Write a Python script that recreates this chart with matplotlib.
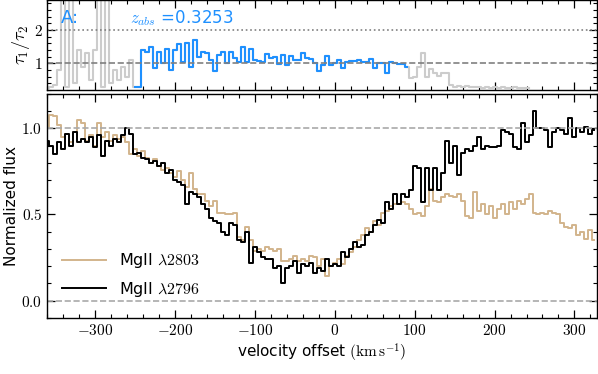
import numpy as np
import matplotlib
matplotlib.use("Agg")
import matplotlib.pyplot as plt
from matplotlib.ticker import MultipleLocator, FuncFormatter

plt.rcParams['mathtext.fontset'] = 'cm'
plt.rcParams['font.family'] = ['DejaVu Sans']

# velocity grid (km/s), 5 km/s bins
velocity = np.arange(-360, 330, 5)

# MgII 2796 normalized flux
flux_2796 = [
    0.93, 0.90, 0.85, 0.92, 0.88, 0.97, 0.90, 0.98, 0.92, 0.94,
    0.92, 0.95, 0.89, 0.96, 0.84, 0.93, 0.90, 0.94, 0.92, 0.96,
    1.00, 0.97, 0.85, 0.86, 0.83, 0.82, 0.80, 0.81, 0.78, 0.80,
    0.74, 0.76, 0.70, 0.69, 0.67, 0.56, 0.63, 0.62, 0.60, 0.56,
    0.53, 0.48, 0.46, 0.45, 0.40, 0.38, 0.45, 0.44, 0.35, 0.34,
    0.40, 0.22, 0.31, 0.28, 0.25, 0.24, 0.24, 0.19, 0.20, 0.10,
    0.19, 0.20, 0.23, 0.16, 0.21, 0.20, 0.22, 0.16, 0.19, 0.17,
    0.24, 0.20, 0.21, 0.20, 0.28, 0.25, 0.30, 0.34, 0.31, 0.32,
    0.38, 0.40, 0.44, 0.47, 0.45, 0.57, 0.53, 0.62, 0.56, 0.62,
    0.60, 0.64, 0.78, 0.77, 0.57, 0.77, 0.64, 0.77, 0.64, 0.74,
    0.93, 0.80, 0.90, 0.73, 0.86, 0.88, 0.87, 0.90, 0.95, 0.88,
    0.90, 0.89, 0.89, 0.90, 0.99, 0.98, 0.97, 0.89, 0.88, 1.03,
    0.92, 0.96, 1.10, 1.00, 1.00, 0.99, 0.89, 0.98, 1.00, 0.99,
    0.97, 1.06, 0.95, 1.00, 0.98, 1.01, 0.97, 0.99,
]

# MgII 2803 normalized flux
flux_2803 = [
    1.00, 1.08, 1.07, 1.02, 0.95, 0.97, 0.92, 0.98, 1.05, 1.03,
    0.93, 0.96, 0.90, 1.03, 0.95, 0.98, 0.93, 0.96, 0.94, 0.95,
    0.92, 0.85, 0.88, 0.84, 0.87, 0.83, 0.80, 0.82, 0.78, 0.76,
    0.77, 0.74, 0.72, 0.75, 0.70, 0.66, 0.74, 0.65, 0.62, 0.62,
    0.58, 0.55, 0.58, 0.51, 0.51, 0.50, 0.50, 0.51, 0.37, 0.35,
    0.43, 0.35, 0.29, 0.30, 0.29, 0.31, 0.30, 0.29, 0.30, 0.23,
    0.23, 0.24, 0.26, 0.23, 0.24, 0.23, 0.26, 0.25, 0.20, 0.24,
    0.14, 0.20, 0.22, 0.24, 0.21, 0.26, 0.28, 0.31, 0.35, 0.38,
    0.42, 0.40, 0.46, 0.44, 0.51, 0.52, 0.55, 0.56, 0.56, 0.57,
    0.56, 0.53, 0.50, 0.51, 0.49, 0.55, 0.65, 0.58, 0.57, 0.60,
    0.62, 0.61, 0.60, 0.62, 0.58, 0.49, 0.48, 0.63, 0.52, 0.56,
    0.50, 0.55, 0.48, 0.53, 0.56, 0.50, 0.57, 0.53, 0.58, 0.56,
    0.59, 0.62, 0.51, 0.50, 0.51, 0.50, 0.52, 0.51, 0.50, 0.45,
    0.43, 0.42, 0.44, 0.38, 0.40, 0.36, 0.41, 0.35,
]

# apparent optical depth ratio tau1/tau2 (nan = not shown)
nan = np.nan
tau_ratio = [
    0.25, 0.30, 0.35, 0.80, 3.00, 0.30, 3.00, 0.40, 1.40, 0.90,
    1.30, 0.50, 1.40, 3.00, 0.30, 3.00, 0.40, 0.80, 0.50, 0.90,
    0.60, 1.10, 0.29, 0.29, 1.39, 1.35, 1.48, 0.85, 1.35, 1.00,
    1.44, 0.80, 1.39, 1.58, 1.05, 1.60, 0.90, 1.70, 1.20, 1.35,
    1.30, 1.10, 0.76, 1.25, 1.35, 1.00, 1.35, 1.15, 1.04, 1.48,
    1.05, 1.44, 1.10, 1.08, 1.05, 1.29, 1.15, 1.20, 0.98, 1.25,
    0.95, 1.22, 1.10, 1.10, 1.32, 1.15, 1.12, 1.00, 0.78, 0.95,
    1.22, 0.95, 1.00, 1.10, 0.87, 1.05, 1.08, 1.08, 1.10, 1.04,
    1.04, 1.14, 0.85, 1.00, 1.00, 0.72, 1.05, 1.00, 0.97, 0.99,
    0.89, 0.56, 0.60, 0.90, 1.31, 0.60, 0.82, 0.70, 0.62, 0.72,
    0.70, 0.35, 0.30, 0.32, 0.29, 0.31, 0.30, 0.28, 0.30, 0.27,
    0.29, 0.26, 0.28, 0.27, 0.29, 0.26, 0.27, 0.28, 0.26, 0.27,
    0.25, nan, nan, nan, nan, nan, nan, nan, nan, nan,
    nan, nan, nan, nan, nan, nan, nan, nan,
]

fit_vmin, fit_vmax = -250, 90
z_abs = 0.3253

velocity = np.asarray(velocity)
tau_ratio = np.asarray(tau_ratio, dtype=float)
mask = (velocity >= fit_vmin) & (velocity <= fit_vmax)

fig = plt.figure(figsize=(5.98, 3.74), dpi=100)
ax1 = fig.add_axes([0.079, 0.759, 0.919, 0.241])
ax2 = fig.add_axes([0.079, 0.1505, 0.919, 0.598])

def style(ax):
    ax.tick_params(which='both', direction='in', top=True, right=True,
                   labelsize=11)
    ax.tick_params(which='major', length=6, width=0.9)
    ax.tick_params(which='minor', length=3, width=0.8)
    for s in ax.spines.values():
        s.set_linewidth(1.0)

# top panel
ax1.plot(velocity, tau_ratio, drawstyle='steps-mid', color='#cccccc', lw=1.5)
ax1.plot(velocity[mask], tau_ratio[mask], drawstyle='steps-mid',
         color='#1E90FF', lw=1.5)
ax1.axhline(1, color='gray', ls='--', lw=1.2)
ax1.axhline(2, color='gray', ls=':', lw=1.2)
ax1.set_xlim(-360, 328)
ax1.set_ylim(0.2, 2.9)
ax1.xaxis.set_major_locator(MultipleLocator(100))
ax1.xaxis.set_minor_locator(MultipleLocator(20))
ax1.yaxis.set_major_locator(MultipleLocator(1))
ax1.yaxis.set_minor_locator(MultipleLocator(0.2))
ax1.set_xticklabels([])
ax1.yaxis.set_major_formatter(FuncFormatter(lambda v, p: f"${v:.0f}$"))
style(ax1)
ax1.tick_params(labelbottom=False)
ax1.set_ylabel(r"$\tau_1/\tau_2$", fontsize=13)
ax1.yaxis.set_label_coords(-0.028, 0.5)
ax1.text(0.025, 0.8, "A:", color='#1E90FF', fontsize=13,
         transform=ax1.transAxes, va='center')
ax1.text(0.15, 0.8, r"$z_{abs}$ =" + f"{z_abs:.4f}", color='#1E90FF',
         fontsize=12, transform=ax1.transAxes, va='center')

# bottom panel
ax2.plot(velocity, flux_2803, drawstyle='steps-mid', color='tan', lw=1.4,
         label=r"MgII $\lambda2803$")
ax2.plot(velocity, flux_2796, drawstyle='steps-mid', color='black', lw=1.4,
         label=r"MgII $\lambda2796$")
ax2.axhline(1.0, color='darkgray', ls='--', lw=1.2)
ax2.axhline(0.0, color='darkgray', ls='--', lw=1.2)
ax2.set_xlim(-360, 328)
ax2.set_ylim(-0.1, 1.2)
ax2.xaxis.set_major_locator(MultipleLocator(100))
ax2.xaxis.set_minor_locator(MultipleLocator(20))
ax2.yaxis.set_major_locator(MultipleLocator(0.5))
ax2.yaxis.set_minor_locator(MultipleLocator(0.1))
ax2.xaxis.set_major_formatter(FuncFormatter(lambda v, p: f"${v:.0f}$"))
ax2.yaxis.set_major_formatter(FuncFormatter(lambda v, p: f"${v:.1f}$"))
style(ax2)
ax2.set_xlabel(r"velocity offset $(\mathrm{km\,s^{-1}})$", fontsize=11,
               labelpad=3)
ax2.set_ylabel("Normalized flux", fontsize=11)
ax2.yaxis.set_label_coords(-0.052, 0.5)
ax2.legend(loc='lower left', bbox_to_anchor=(0.0, 0.02), frameon=False,
           fontsize=11.5, handlelength=2.8, labelspacing=0.6)

fig.savefig("out.png", dpi=100)
